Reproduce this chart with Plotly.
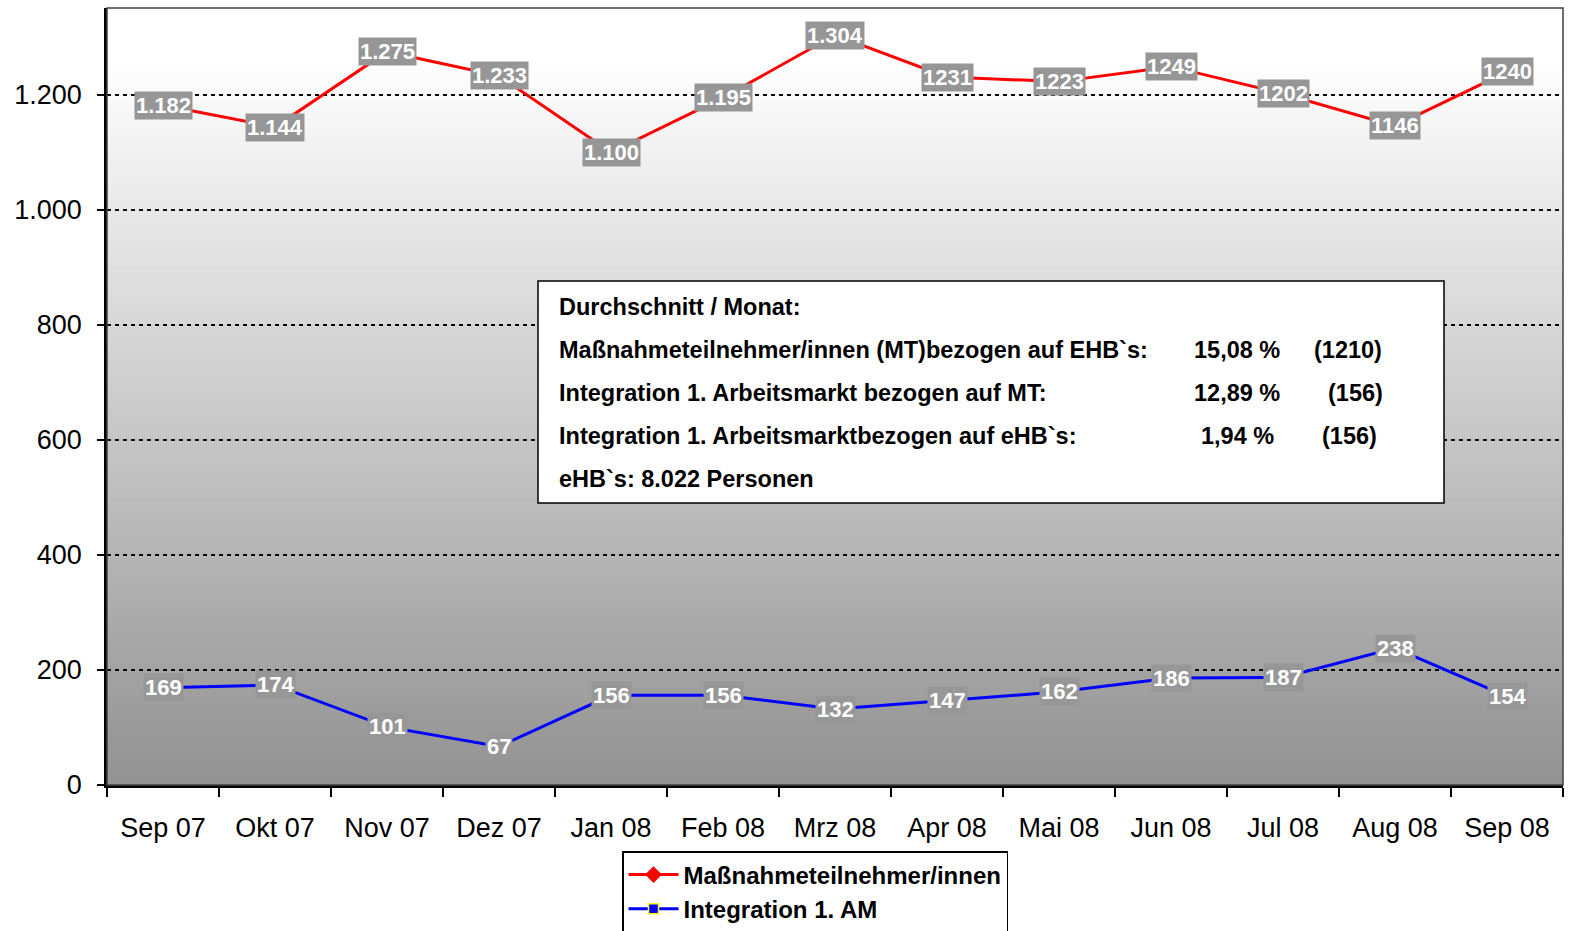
"""Monthly participants vs. integration into the first labour market."""
import plotly.graph_objects as go

months = ["Sep 07", "Okt 07", "Nov 07", "Dez 07", "Jan 08", "Feb 08", "Mrz 08",
          "Apr 08", "Mai 08", "Jun 08", "Jul 08", "Aug 08", "Sep 08"]
participants = [1182, 1144, 1275, 1233, 1100, 1195, 1304, 1231, 1223, 1249, 1202, 1146, 1240]
participant_labels = ["1.182", "1.144", "1.275", "1.233", "1.100", "1.195", "1.304",
                      "1231", "1223", "1249", "1202", "1146", "1240"]
integration = [169, 174, 101, 67, 156, 156, 132, 147, 162, 186, 187, 238, 154]
integration_labels = [str(v) for v in integration]

y_ticks = [0, 200, 400, 600, 800, 1000, 1200]

summary_title = "Durchschnitt / Monat:"
summary_rows = [
    ("Maßnahmeteilnehmer/innen (MT)bezogen auf EHB`s:", "15,08 %", "(1210)"),
    ("Integration 1. Arbeitsmarkt bezogen auf MT:", "12,89 %", "(156)"),
    ("Integration 1. Arbeitsmarktbezogen auf eHB`s:", "1,94 %", "(156)"),
]
summary_footer = "eHB`s: 8.022 Personen"

FONT = "Arial, Liberation Sans, sans-serif"
W, H = 1571, 931
L, R, T, B = 107, 8, 8, 146
PW, PH = W - L - R, H - T - B


def px_x(x):
    return (x - L) / PW


def px_y(y):
    return (H - B - y) / PH


fig = go.Figure()
fig.add_trace(go.Scatter(
    x=months, y=participants, name="Maßnahmeteilnehmer/innen",
    mode="lines+markers",
    line=dict(color="#ff0000", width=3),
    marker=dict(symbol="diamond", size=13, color="#ff0000"),
))
fig.add_trace(go.Scatter(
    x=months, y=integration, name="Integration 1. AM",
    mode="lines+markers",
    line=dict(color="#0000ff", width=3),
    marker=dict(symbol="square", size=10, color="#0000ff", line=dict(color="#ffff00", width=1.5)),
))

# value labels in grey boxes
for m, v, t in zip(months, participants, participant_labels):
    fig.add_annotation(x=m, y=v, text=t, showarrow=False, bgcolor="#969696", borderpad=1,
                       font=dict(family=FONT, size=22, color="white", weight="bold"))
for m, v, t in zip(months, integration, integration_labels):
    fig.add_annotation(x=m, y=v, text=t, showarrow=False, bgcolor="#979797", borderpad=1,
                       font=dict(family=FONT, size=22, color="white", weight="bold"))

# vertical grey gradient behind the plot
shapes = []
bands = 90
for i in range(bands):
    f = (i + 0.5) / bands
    g = int(round(255 - 109 * max(0.0, (f - 0.07) / 0.93)))
    shapes.append(dict(type="rect", xref="paper", yref="paper", x0=0, x1=1,
                       y0=1 - (i + 1) / bands, y1=1 - i / bands + 0.002,
                       fillcolor=f"rgb({g},{g},{g})", line=dict(width=0), layer="below"))
shapes.append(dict(type="rect", xref="paper", yref="paper", x0=0, x1=1, y0=0, y1=1,
                   line=dict(color="#404040", width=1.5), layer="above"))

# summary box
shapes.append(dict(type="rect", xref="paper", yref="paper",
                   x0=px_x(538), x1=px_x(1444), y0=px_y(503), y1=px_y(281),
                   fillcolor="white", line=dict(color="black", width=1.5), layer="above"))
fig.update_layout(shapes=shapes)

box_font = dict(family=FONT, size=23.5, color="black", weight="bold")
row_y = [307, 350, 393, 436, 479]
fig.add_annotation(xref="paper", yref="paper", x=px_x(557), y=px_y(row_y[0]), text=summary_title,
                   showarrow=False, xanchor="left", font=box_font)
paren_x = [1348, 1355, 1349]
for (label, pct, cnt), ry, pxx in zip(summary_rows, row_y[1:4], paren_x):
    fig.add_annotation(xref="paper", yref="paper", x=px_x(557), y=px_y(ry), text=label,
                       showarrow=False, xanchor="left", font=box_font)
    fig.add_annotation(xref="paper", yref="paper", x=px_x(1237), y=px_y(ry), text=pct,
                       showarrow=False, xanchor="center", font=box_font)
    fig.add_annotation(xref="paper", yref="paper", x=px_x(pxx), y=px_y(ry), text=cnt,
                       showarrow=False, xanchor="center", font=box_font)
fig.add_annotation(xref="paper", yref="paper", x=px_x(557), y=px_y(row_y[4]), text=summary_footer,
                   showarrow=False, xanchor="left", font=box_font)

fig.update_layout(
    width=W, height=H,
    margin=dict(l=L, r=R, t=T, b=B, autoexpand=False),
    paper_bgcolor="white",
    plot_bgcolor="rgba(0,0,0,0)",
    separators=",.",
    font=dict(family=FONT, size=27, color="black"),
    showlegend=True,
    legend=dict(
        x=px_x(622), y=px_y(851), xanchor="left", yanchor="top",
        bgcolor="white", bordercolor="black", borderwidth=1.5,
        font=dict(family=FONT, size=24, color="black", weight="bold"),
        itemwidth=50, tracegroupgap=0,
    ),
    xaxis=dict(
        type="category", range=[-0.5, 12.5], tickson="boundaries",
        showgrid=False, showline=True, linecolor="black", linewidth=2.5,
        ticks="outside", ticklen=9, tickwidth=1.5, tickcolor="black",
        ticklabelstandoff=17, tickfont=dict(size=27),
    ),
    yaxis=dict(
        range=[0, 1351], tickvals=y_ticks, tickformat=",d", separatethousands=True,
        showgrid=True, gridcolor="black", gridwidth=2, griddash="4px,4px",
        zeroline=False, showline=True, linecolor="black", linewidth=2.5,
        ticks="outside", ticklen=7, tickwidth=1.5, tickcolor="black",
        ticklabelstandoff=10, tickfont=dict(size=27),
    ),
)

fig.write_html("out.html", config={"displayModeBar": False},
               post_script="document.body.style.margin='0';")
